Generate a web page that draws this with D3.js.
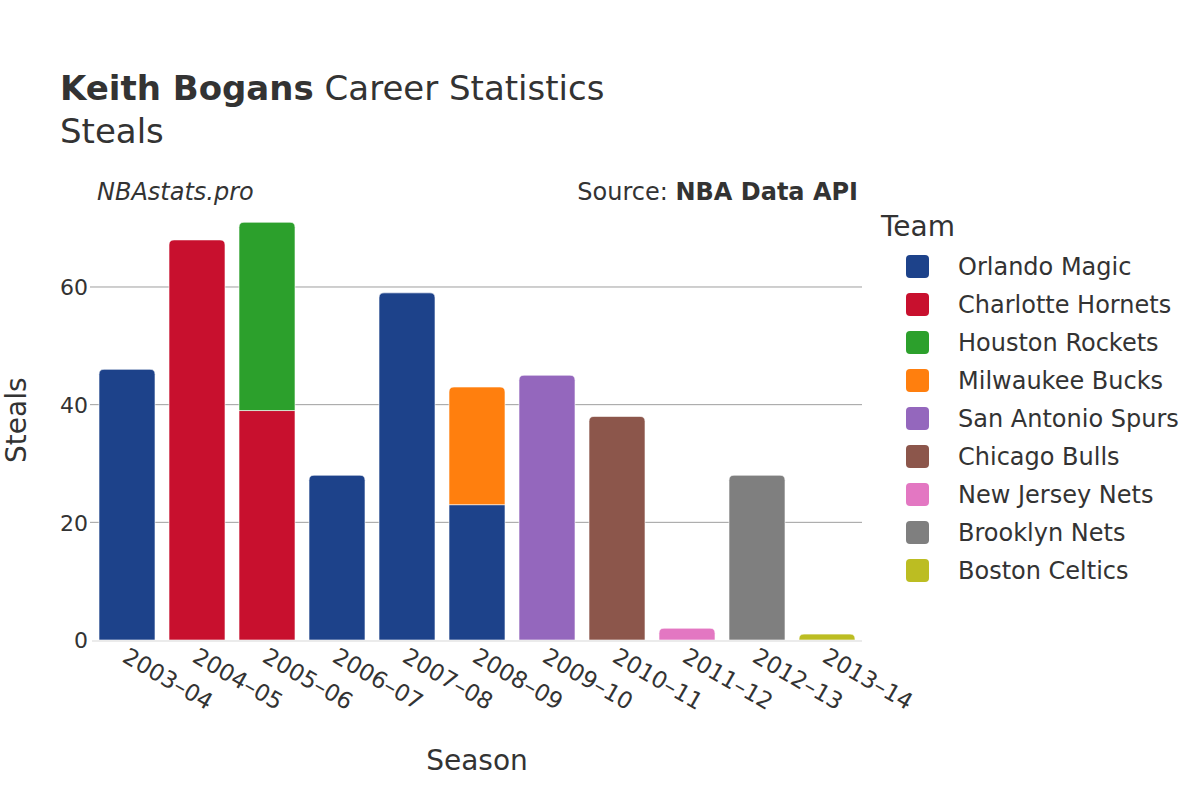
<!DOCTYPE html>
<html><head><meta charset="utf-8">
<script src="https://cdn.jsdelivr.net/npm/d3@7"></script>
<style>body{margin:0;background:#fff;} svg{font-family:"DejaVu Sans",sans-serif;}</style>
</head><body>
<svg id="c" width="1200" height="800"></svg>
<script>
const seasons = ["2003–04","2004–05","2005–06","2006–07","2007–08","2008–09","2009–10","2010–11","2011–12","2012–13","2013–14"];
const teams = ["Orlando Magic","Charlotte Hornets","Houston Rockets","Milwaukee Bucks","San Antonio Spurs","Chicago Bulls","New Jersey Nets","Brooklyn Nets","Boston Celtics"];
const teamColors = ["#1d428a","#c8102e","#2ca02c","#ff7f0e","#9467bd","#8c564b","#e377c2","#7f7f7f","#bcbd22"];
// values per team, aligned with seasons
const orlando    = [46,0,0,28,59,23,0,0,0,0,0];
const charlotte  = [0,68,39,0,0,0,0,0,0,0,0];
const houston    = [0,0,32,0,0,0,0,0,0,0,0];
const milwaukee  = [0,0,0,0,0,20,0,0,0,0,0];
const sanantonio = [0,0,0,0,0,0,45,0,0,0,0];
const chicago    = [0,0,0,0,0,0,0,38,0,0,0];
const newjersey  = [0,0,0,0,0,0,0,0,2,0,0];
const brooklyn   = [0,0,0,0,0,0,0,0,0,28,0];
const boston     = [0,0,0,0,0,0,0,0,0,0,1];
const yTicks = [0,20,40,60];
const seriesValues = [orlando,charlotte,houston,milwaukee,sanantonio,chicago,newjersey,brooklyn,boston];

const svg = d3.select("#c");
const W = {l:92, r:862, t:200.5, b:640};
const x = d3.scaleBand().domain(seasons).range([W.l, W.r]).paddingInner(0.2).paddingOuter(0.1);
const y = d3.scaleLinear().domain([0, 74.7]).range([W.b, W.t]);
const color = d3.scaleOrdinal().domain(teams).range(teamColors);
const textCol = "#333";

// grid
svg.append("g").selectAll("line").data(yTicks.filter(d=>d>0)).join("line")
  .attr("x1",W.l-2).attr("x2",W.r).attr("y1",d=>y(d)).attr("y2",d=>y(d))
  .attr("stroke","#9e9e9e").attr("stroke-width",1);

// stack
const table = seasons.map((s,i)=>{const o={season:s}; teams.forEach((t,j)=>o[t]=seriesValues[j][i]); return o;});
const stack = d3.stack().keys(teams)(table);
const topKey = {};
seasons.forEach((s,i)=>{teams.forEach((t,j)=>{ if(seriesValues[j][i]>0) topKey[s]=t; });});

function barPath(x0,x1,y0,y1,round){
  const r = Math.min(5, (y0-y1), (x1-x0)/2);
  if(!round || r<=0) return `M${x0},${y0}V${y1}H${x1}V${y0}Z`;
  return `M${x0},${y0}V${y1+r}Q${x0},${y1} ${x0+r},${y1}H${x1-r}Q${x1},${y1} ${x1},${y1+r}V${y0}Z`;
}
const gBars = svg.append("g");
stack.forEach(layer=>{
  const t = layer.key;
  gBars.append("g").selectAll("path").data(layer.filter(d=>d[1]-d[0]>0)).join("path")
    .attr("d",d=>{const x0=x(d.data.season), x1=x0+x.bandwidth(); return barPath(x0,x1,y(d[0]),y(d[1]), topKey[d.data.season]===t);})
    .attr("fill",color(t)).attr("stroke","#fff").attr("stroke-opacity",0.6).attr("stroke-width",1);
});

// zero line
svg.append("line").attr("x1",W.l).attr("x2",W.r).attr("y1",y(0)+1).attr("y2",y(0)+1).attr("stroke","#ebebeb").attr("stroke-width",2);

// y axis
const yAxis = svg.append("g").attr("transform",`translate(${W.l},0)`).call(d3.axisLeft(y).tickValues(yTicks).tickSize(0).tickPadding(4));
yAxis.select(".domain").remove();
yAxis.selectAll("text").attr("font-size",22).attr("fill",textCol).attr("font-family","DejaVu Sans").attr("dy","0.35em").attr("x",-4);

// x axis
const xAxis = svg.append("g").attr("transform",`translate(0,${W.b})`).call(d3.axisBottom(x).tickSize(0));
xAxis.select(".domain").remove();
xAxis.selectAll("text").attr("font-size",23).attr("fill",textCol).attr("font-family","DejaVu Sans")
  .attr("text-anchor","start").attr("dy",0).attr("y",0)
  .attr("transform","translate(-6,21) rotate(30)");

// titles
const title = svg.append("text").attr("x",60).attr("y",100).attr("font-size",34).attr("fill",textCol);
title.append("tspan").attr("font-weight","bold").text("Keith Bogans");
title.append("tspan").text(" Career Statistics");
svg.append("text").attr("x",60).attr("y",143).attr("font-size",34).attr("fill",textCol).text("Steals");
svg.append("text").attr("x",97).attr("y",200).attr("font-size",24).attr("font-style","italic").attr("fill",textCol).text("NBAstats.pro");
const src = svg.append("text").attr("x",858).attr("y",200).attr("font-size",24).attr("text-anchor","end").attr("fill",textCol);
src.append("tspan").text("Source: ");
src.append("tspan").attr("font-weight","bold").text("NBA Data API");

svg.append("text").attr("x",(W.l+W.r)/2).attr("y",770).attr("text-anchor","middle").attr("font-size",28).attr("fill",textCol).text("Season");
svg.append("text").attr("transform",`translate(16,${(W.t+W.b)/2}) rotate(-90)`).attr("text-anchor","middle").attr("dy","0.35em").attr("font-size",28).attr("fill",textCol).text("Steals");

// legend
const lg = svg.append("g");
lg.append("text").attr("x",881).attr("y",236).attr("font-size",28).attr("fill",textCol).text("Team");
const items = lg.selectAll("g.item").data(teams).join("g").attr("class","item")
  .attr("transform",(d,i)=>`translate(0,${266+i*38})`);
items.append("rect").attr("x",906).attr("y",-11).attr("width",23).attr("height",23).attr("rx",4).attr("fill",d=>color(d));
items.append("text").attr("x",958).attr("y",1).attr("dy","0.35em").attr("font-size",24).attr("fill",textCol).text(d=>d);
</script>
</body></html>
